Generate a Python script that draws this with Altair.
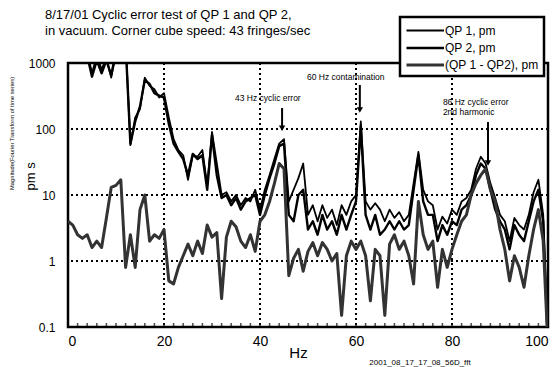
import altair as alt
import pandas as pd

# ---------------- data ----------------
hz = list(range(0, 101))

qp1 = [3000, 3000, 2500, 2000, 1500, 700, 1300, 800, 1200, 600,
       1400, 2000, 2200, 57, 150, 200, 600, 450, 400, 300,
       350, 150, 70, 48, 40, 17, 40, 38, 48, 14,
       90, 30, 10, 11, 8, 10, 7, 9, 8, 12,
       6, 12, 20, 35, 60, 70, 8, 12, 18, 30,
       5, 7, 4, 7, 4.5, 6, 3.5, 7, 5, 8,
       10, 130, 8, 6, 7.5, 6, 4, 6, 4.5, 5.5,
       4, 5, 15, 45, 12, 8, 7, 3, 4.7, 3.7,
       6, 5, 8, 9, 12, 25, 38, 30, 15, 9,
       5, 4, 2, 4.5, 3.5, 3, 5, 11, 17, 5,
       0.05]

qp2 = [2800, 3200, 2300, 1800, 1300, 620, 1100, 700, 1100, 650,
       1500, 1800, 2000, 60, 130, 220, 550, 480, 350, 320,
       300, 120, 60, 45, 35, 20, 42, 35, 40, 12,
       80, 20, 9, 10, 7, 9, 6, 8, 9, 10,
       5, 10, 18, 30, 55, 60, 5, 4, 10, 12,
       3, 4, 2.5, 5, 3, 4, 2.5, 5, 3, 5,
       8, 110, 5, 3, 5, 2.5, 3, 4, 3, 4,
       3, 3.5, 12, 40, 8, 5, 5, 2, 3.5, 2.5,
       4, 3.5, 6, 7, 10, 20, 30, 25, 12, 6,
       4, 3, 1.5, 3.5, 2.5, 2, 4, 8, 12, 4,
       0.05]

qpdiff = [4, 3.5, 2.5, 2.2, 2.5, 1.6, 2, 1.6, 4.5, 13,
          14, 17, 0.8, 2.5, 0.8, 6, 10, 2, 2.5, 2.2,
          3, 0.5, 0.45, 0.8, 1.2, 1.8, 1.2, 2, 1.3, 3.5,
          2.3, 2.7, 0.27, 2.3, 4, 3.3, 2, 1.6, 2.5, 1.4,
          4, 5, 8, 15, 30, 25, 0.6, 1.1, 1.5, 0.7,
          1.4, 1.9, 1.2, 1.9, 1.5, 1.0, 1.3, 0.15, 1.2, 2,
          1.5, 2, 1.2, 0.25, 1.5, 1.2, 0.15, 1.8, 2.5, 1.5,
          2, 1.2, 0.45, 8, 2.5, 1.5, 2, 0.4, 1.5, 0.8,
          1.5, 2.5, 4, 5, 10, 15, 20, 25, 12, 8,
          3, 1.5, 0.5, 1.2, 0.8, 0.4, 1.2, 3, 6, 2,
          0.05]

series_names = ["QP 1, pm", "QP 2, pm", "(QP 1 - QP2), pm"]

x_grid = [20, 40, 60, 80]
y_grid = [1, 10, 100]
y_ticks = [0.1, 1, 10, 100, 1000]
x_labels = [0, 20, 40, 60, 80, 100]
x_minor = list(range(0, 101, 2))

# annotations (data units)
note_labels = ["43 Hz cyclic error", "60 Hz contamination",
               "86 Hz cyclic error", "2nd harmonic"]
note_hz = [34.8, 49.8, 78.1, 78.1]
note_val = [295, 614, 256, 181]

arrow_hz = [44.6, 60.8, 87.5]
arrow_from = [208, 464, 128]
arrow_to = [103, 194, 30.5]

title_lines = ["8/17/01  Cyclic error test of QP 1 and QP 2,",
               "in vacuum.  Corner cube speed: 43 fringes/sec"]
footer = "2001_08_17_17_08_56D_fft"
ylabel_small = "Magnitude(Fourier Transform of time series)"

# ---------------- build ----------------
rows = []
for name, vals in zip(series_names, [qp1, qp2, qpdiff]):
    for h, v in zip(hz, vals):
        rows.append({"Hz": h, "value": v, "series": name})
df = pd.DataFrame(rows)

FONT = "Liberation Sans"
xs = alt.Scale(domain=[0, 100], nice=False, zero=False)
ys = alt.Scale(type="log", domain=[0.1, 1000], nice=False)

x_axis = alt.Axis(
    values=x_labels, format="d",
    ticks=False, domain=False, grid=False,
    labelFontSize=14, labelPadding=7, labelColor="black", labelFont=FONT,
    labelOverlap=False, labelFlush=True,
    title="Hz", titleFontSize=15, titleFont=FONT, titleFontWeight="normal",
    titleColor="black", titleX=230, titleY=30, titleBaseline="alphabetic",
    titleAlign="center",
)
y_axis = alt.Axis(
    values=y_ticks,
    labelExpr="datum.value < 1 ? '0.1' : format(datum.value, 'd')",
    ticks=False, domain=False, grid=False,
    labelFontSize=12, labelPadding=13, labelColor="black", labelFont=FONT,
    labelFlush=False, labelOverlap=False,
    title="pm s", titleFontSize=13, titleFont=FONT, titleFontWeight="normal",
    titleColor="black", titleAngle=270, titleX=-38, titleY=127,
    titleAlign="left", titleBaseline="middle",
)

legend = alt.Legend(
    title=None, orient="none", legendX=332, legendY=-46,
    fillColor="white", strokeColor="black", padding=5,
    labelFont=FONT, labelFontSize=12, labelColor="black",
    symbolType="M-1,0H4", symbolSize=225, symbolStrokeWidth=2.2,
    labelOffset=22,
)

lines = alt.Chart(df).mark_line(clip=True, strokeJoin="round").encode(
    x=alt.X("Hz:Q", scale=xs, axis=x_axis),
    y=alt.Y("value:Q", scale=ys, axis=y_axis),
    color=alt.Color("series:N",
                    scale=alt.Scale(domain=series_names,
                                    range=["#000000", "#000000", "#333333"]),
                    legend=legend),
    strokeWidth=alt.StrokeWidth("series:N",
                                scale=alt.Scale(domain=series_names,
                                                range=[1.8, 3.0, 2.2]),
                                legend=None),
)

vgrid = alt.Chart(pd.DataFrame({"Hz": x_grid})).mark_rule(
    color="black", strokeWidth=2, strokeDash=[2, 3]
).encode(x=alt.X("Hz:Q", scale=xs))

hgrid = alt.Chart(pd.DataFrame({"value": y_grid})).mark_rule(
    color="black", strokeWidth=2, strokeDash=[2, 3]
).encode(y=alt.Y("value:Q", scale=ys))

minor = alt.Chart(pd.DataFrame({"Hz": x_minor})).mark_tick(
    color="black", thickness=1.5, size=4
).encode(x=alt.X("Hz:Q", scale=xs), y=alt.value(262))

notes = alt.Chart(pd.DataFrame({"Hz": note_hz, "value": note_val,
                                "label": note_labels})).mark_text(
    align="left", baseline="middle", fontSize=8.5, font=FONT, color="black"
).encode(x=alt.X("Hz:Q", scale=xs),
         y=alt.Y("value:Q", scale=ys),
         text="label:N")

arrow_df = pd.DataFrame({"Hz": arrow_hz, "top": arrow_from, "tip": arrow_to})
shafts = alt.Chart(arrow_df).mark_rule(color="black", strokeWidth=2).encode(
    x=alt.X("Hz:Q", scale=xs),
    y=alt.Y("top:Q", scale=ys), y2="tip:Q")
heads = alt.Chart(arrow_df).mark_point(
    shape="triangle-down", filled=True, color="black", size=40, opacity=1
).encode(x=alt.X("Hz:Q", scale=xs),
         y=alt.Y("tip:Q", scale=ys))

one = pd.DataFrame({"t": [0]})
foot = alt.Chart(one).mark_text(
    fontSize=8, font=FONT, color="black", align="center", baseline="middle"
).encode(x=alt.value(352), y=alt.value(300), text=alt.value(footer))
ysmall = alt.Chart(one).mark_text(
    fontSize=5.8, font=FONT, color="black", align="left", baseline="middle",
    angle=270
).encode(x=alt.value(-56), y=alt.value(127), text=alt.value(ylabel_small))

chart = alt.layer(hgrid, vgrid, minor, lines, shafts, heads, notes, foot,
                  ysmall).properties(
    width=480, height=264,
    background="white",
    autosize=alt.AutoSizeParams(type="none"),
    padding={"left": 68, "top": 63, "right": 4, "bottom": 40},
    title=alt.TitleParams(text=title_lines, anchor="start", frame="group",
                          dx=-23, dy=26, fontSize=13, fontWeight="normal",
                          font=FONT, color="black", lineHeight=16),
).configure_view(
    stroke="black", strokeWidth=2.5
).configure_legend(
    strokeWidth=2.5, rowPadding=2
)

chart.save("out.html", embed_options={"renderer": "svg", "actions": False})
